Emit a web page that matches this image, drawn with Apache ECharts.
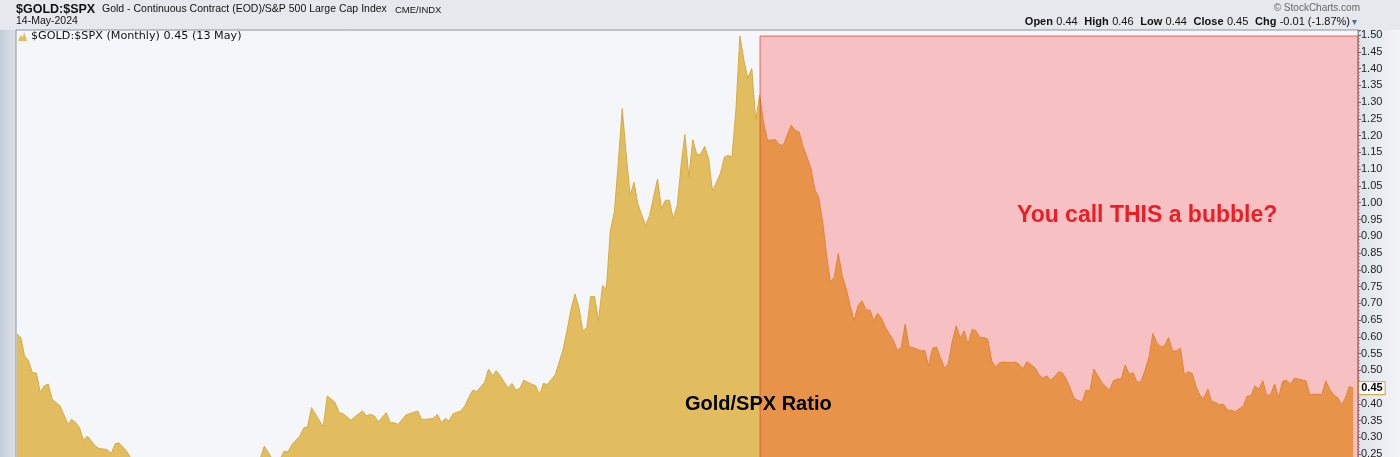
<!DOCTYPE html>
<html><head><meta charset="utf-8">
<script src="https://cdn.jsdelivr.net/npm/echarts@6/dist/echarts.min.js"></script>
<style>html,body{margin:0;padding:0;background:#e6e8ed}#c{width:1400px;height:457px}</style>
</head><body><div id="c"></div>
<script>
// ---- data (monthly Gold / S&P 500 ratio) ----
const months = [
'1996-01','1996-02','1996-03','1996-04','1996-05','1996-06','1996-07','1996-08','1996-09','1996-10','1996-12',
'1997-02','1997-03','1997-04','1997-05','1997-06','1997-07','1997-09','1997-10','1997-12',
'1998-01','1998-02','1998-03','1998-05','1998-06','1998-08','1998-11',
'1999-03','1999-07','1999-11',
'2000-03','2000-07','2000-11',
'2001-02','2001-03','2001-04','2001-06','2001-08','2001-09','2001-10','2001-11',
'2002-01','2002-02','2002-03','2002-04','2002-07','2002-08','2002-10','2002-11','2002-12',
'2003-02','2003-03','2003-05','2003-06','2003-07','2003-08','2003-09','2003-11','2003-12',
'2004-01','2004-02','2004-04','2004-05','2004-07','2004-08','2004-09','2004-11','2004-12',
'2005-01','2005-02','2005-03','2005-04','2005-06','2005-07','2005-08','2005-09','2005-10','2005-12',
'2006-01','2006-02','2006-03','2006-04','2006-06','2006-07','2006-08','2006-09','2006-10','2006-11',
'2007-01','2007-02','2007-03','2007-04','2007-06','2007-07','2007-08','2007-09','2007-10','2007-11','2007-12',
'2008-01','2008-02','2008-03','2008-04','2008-05','2008-06','2008-07','2008-08','2008-09','2008-10','2008-11','2008-12',
'2009-01','2009-02','2009-03','2009-05','2009-06','2009-08','2009-09','2009-10','2009-11','2009-12',
'2010-01','2010-02','2010-03','2010-04','2010-05','2010-06','2010-07','2010-08','2010-09','2010-10','2010-11','2010-12',
'2011-01','2011-02','2011-03','2011-04','2011-05','2011-06','2011-07','2011-08','2011-09','2011-10','2011-11','2011-12',
'2012-02','2012-03','2012-04','2012-05','2012-06','2012-07','2012-08','2012-09','2012-11','2012-12',
'2013-01','2013-02','2013-03','2013-04','2013-05','2013-06','2013-07','2013-08','2013-09','2013-10','2013-11','2013-12',
'2014-01','2014-02','2014-03','2014-04','2014-05','2014-06','2014-08','2014-09','2014-10','2014-11','2014-12',
'2015-01','2015-02','2015-03','2015-04','2015-05','2015-06','2015-07','2015-08','2015-09','2015-10','2015-11','2015-12',
'2016-01','2016-02','2016-03','2016-04','2016-05','2016-06','2016-07','2016-08','2016-09','2016-10','2016-11','2016-12',
'2017-02','2017-03','2017-04','2017-05','2017-06','2017-08','2017-09','2017-10','2017-11','2017-12',
'2018-01','2018-02','2018-03','2018-04','2018-05','2018-06','2018-08','2018-09','2018-10','2018-11','2018-12',
'2019-01','2019-03','2019-04','2019-05','2019-06','2019-07','2019-08','2019-09','2019-10','2019-11','2019-12',
'2020-01','2020-02','2020-03','2020-04','2020-05','2020-06','2020-07','2020-08','2020-09','2020-10','2020-11','2020-12',
'2021-01','2021-02','2021-03','2021-04','2021-05','2021-06','2021-07','2021-08','2021-09','2021-10','2021-11',
'2022-01','2022-02','2022-03','2022-04','2022-05','2022-06','2022-07','2022-08','2022-09','2022-10','2022-11','2022-12',
'2023-01','2023-02','2023-03','2023-05','2023-06','2023-07','2023-08','2023-09','2023-10','2023-11','2023-12',
'2024-01','2024-02','2024-03','2024-04','2024-05'
];
const ratio = [
0.610,0.598,0.543,0.528,0.493,0.492,0.434,0.454,0.459,0.414,0.394,
0.339,0.354,0.344,0.329,0.291,0.304,0.274,0.267,0.264,
0.252,0.281,0.284,0.259,0.239,0.230,0.220,
0.210,0.215,0.210,
0.205,0.210,0.220,
0.228,0.238,0.274,0.236,0.236,0.259,0.257,0.279,
0.304,0.329,0.331,0.389,0.331,0.424,0.404,0.374,0.371,
0.351,0.361,0.379,0.364,0.369,0.364,0.347,0.374,0.344,
0.344,0.339,0.367,0.371,0.379,0.354,0.354,0.357,0.369,
0.344,0.357,0.349,0.371,0.379,0.394,0.419,0.441,0.437,0.464,
0.504,0.484,0.499,0.484,0.447,0.461,0.441,0.447,0.471,0.464,
0.454,0.427,0.461,0.458,0.487,0.523,0.563,0.620,0.680,0.728,0.688,
0.618,0.628,0.720,0.720,0.648,0.753,0.743,0.917,0.972,1.116,1.281,1.146,
1.022,1.061,0.997,0.932,0.962,1.071,0.982,1.007,1.007,0.952,
0.992,1.116,1.204,1.076,1.188,1.144,1.144,1.168,1.131,1.035,1.061,1.087,
1.136,1.141,1.136,1.281,1.497,1.425,1.371,1.400,1.246,1.321,1.236,1.186,
1.188,1.173,1.171,1.201,1.231,1.216,1.211,1.168,1.103,1.040,
1.015,0.940,0.847,0.763,0.778,0.849,0.783,0.743,0.693,0.648,0.693,0.708,
0.680,0.680,0.648,0.670,0.656,0.628,0.590,0.560,0.568,0.638,0.570,
0.568,0.563,0.558,0.560,0.513,0.566,0.570,0.538,0.507,0.519,0.588,0.633,
0.596,0.618,0.576,0.622,0.618,0.598,0.598,0.593,0.528,0.510,0.523,0.525,
0.523,0.525,0.518,0.505,0.526,0.508,0.487,0.477,0.484,0.471,
0.481,0.496,0.493,0.474,0.447,0.417,0.404,0.441,0.439,0.504,0.484,
0.464,0.441,0.469,0.474,0.474,0.516,0.489,0.493,0.464,0.467,0.499,
0.538,0.610,0.583,0.570,0.573,0.598,0.558,0.558,0.566,0.487,0.496,0.491,
0.451,0.424,0.417,0.444,0.407,0.404,0.397,0.399,0.381,0.381,0.377,
0.394,0.424,0.424,0.454,0.444,0.469,0.424,0.429,0.459,0.419,0.467,0.471,
0.459,0.477,0.474,0.469,0.427,0.429,0.429,0.427,0.469,0.444,0.427,
0.419,0.397,0.417,0.452,0.447
];
const yTickMin = 0.20, yTickStep = 0.05, yTop = 1.515;
const xStart = '1995-12-26', xEnd = '2024-06-07';
const shadeStart = '2011-10-04', shadeTop = 1.497;
const lastClose = 0.45;
const quote = {Open:'0.44', High:'0.46', Low:'0.44', Close:'0.45', Chg:'-0.01 (-1.87%)'};

const T = s => echarts.time.parse(s).getTime();
const chart = echarts.init(document.getElementById('c'), null, {renderer:'canvas'});
const seriesData = months.map((m,i)=>[T(m+'-01'), ratio[i]]);
const F = 'Liberation Sans, Arial, sans-serif';

chart.setOption({
  animation:false,
  backgroundColor:'#e6e8ed',
  grid:{left:16,width:1342,top:30,height:441,outerBoundsMode:'none',containLabel:false,
    show:true,backgroundColor:'#f5f6fa',borderColor:'#8d949e',borderWidth:1},
  xAxis:{type:'time',min:T(xStart),max:T(xEnd),show:false},
  yAxis:{type:'value',position:'right',min:yTickMin,max:yTop,interval:yTickStep,
    axisLine:{show:true,lineStyle:{color:'#8d949e'}},
    axisTick:{show:true,length:3,lineStyle:{color:'#666'}},
    minorTick:{show:true,splitNumber:5,length:2,lineStyle:{color:'#9aa0a8'}},
    splitLine:{show:false},
    axisLabel:{margin:3,fontSize:11,color:'#222',fontFamily:F,
      formatter:v=> Math.abs(v/yTickStep-Math.round(v/yTickStep))<1e-6 ? v.toFixed(2) : ''}
  },
  legend:{show:true,left:18,top:31,padding:0,itemGap:0,itemWidth:11,itemHeight:9,
    icon:'path://M0,10 L3,3 L5,6 L7,0 L10,10 Z',
    data:['$GOLD:$SPX'],
    formatter:()=> '$GOLD:$SPX (Monthly) ' + lastClose.toFixed(2) + ' (13 May)',
    textStyle:{fontSize:11.2,fontFamily:'DejaVu Sans, Verdana, sans-serif',color:'#111',padding:[0,0,0,-2]}
  },
  series:[
    {type:'line',name:'$GOLD:$SPX',data:seriesData,showSymbol:false,symbol:'none',z:2,
      color:'#e2bd5f',
      lineStyle:{color:'#d6aa44',width:1},
      areaStyle:{color:'#e2bd5f',opacity:1,origin:'start'},
      endLabel:{show:true,distance:6,formatter:()=>lastClose.toFixed(2),
        backgroundColor:'#ffffff',borderColor:'#c9a23c',borderWidth:1,padding:[1,2,0,2],
        fontSize:11,fontWeight:'bold',color:'#000',fontFamily:F}
    },
    {type:'line',name:'shade',data:[],z:5,silent:true,
      markArea:{silent:true,z:10,
        itemStyle:{color:'rgba(255,0,0,0.22)',borderColor:'rgba(214,70,50,0.75)',borderWidth:1},
        data:[[{xAxis:T(shadeStart),yAxis:shadeTop},{xAxis:T(xEnd),yAxis:yTickMin}]]
      }
    }
  ],
  graphic:[
    {type:'rect',left:1358,top:30,z:-10,shape:{width:42,height:427},
      style:{fill:new echarts.graphic.LinearGradient(0,0,1,0,[{offset:0,color:'#dfe3ea'},{offset:1,color:'#f3f4f7'}])}},
    {type:'rect',left:0,top:30,z:-10,shape:{width:16,height:427},
      style:{fill:new echarts.graphic.LinearGradient(0,0,1,0,[{offset:0,color:'#c6cdd9'},{offset:1,color:'#dde1e8'}])}},
    {type:'text',left:16,top:3,style:{text:'$GOLD:$SPX',font:'bold 12.5px '+F,fill:'#111'}},
    {type:'text',left:102,top:4,style:{text:'Gold - Continuous Contract (EOD)/S&P 500 Large Cap Index',font:'10.5px '+F,fill:'#111'}},
    {type:'text',left:395,top:5,style:{text:'CME/INDX',font:'9.5px '+F,fill:'#111'}},
    {type:'text',left:16,top:16,style:{text:'14-May-2024',font:'10.5px '+F,fill:'#111'}},
    {type:'text',right:40,top:3,style:{text:'\u00A9 StockCharts.com',font:'10px '+F,fill:'#666'}},
    {type:'text',right:50,top:16,style:{
      text:'{b|Open} {n|'+quote.Open+'}  {b|High} {n|'+quote.High+'}  {b|Low} {n|'+quote.Low+'}  {b|Close} {n|'+quote.Close+'}  {b|Chg} {n|'+quote.Chg+'}',
      rich:{b:{font:'bold 11px '+F,fill:'#111'},n:{font:'11px '+F,fill:'#111'}}}},
    {type:'text',left:1352,top:17,style:{text:'\u25BE',font:'10px DejaVu Sans',fill:'#4b6fa8'}},
    {type:'text',left:1017,top:204,z:20,style:{text:'You call THIS a bubble?',font:'bold 23px '+F,fill:'#ee1c24'}},
    {type:'text',left:685,top:394,z:20,style:{text:'Gold/SPX Ratio',font:'bold 20px '+F,fill:'#000'}}
  ]
});
</script></body></html>
